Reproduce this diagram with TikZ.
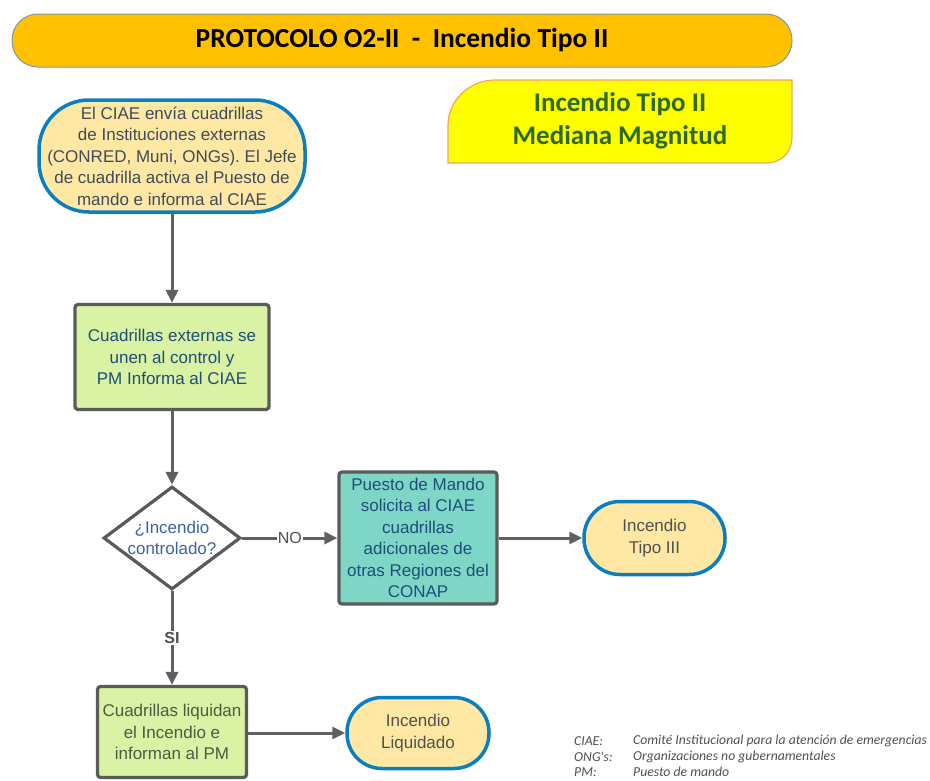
\documentclass[tikz,border=0pt]{standalone}
\usepackage{fontspec}
\setmainfont{Liberation Sans}
\newfontfamily\carlito{Carlito}
\usetikzlibrary{shapes.geometric,arrows.meta}
\definecolor{titlefill}{HTML}{FFC000}
\definecolor{titleborder}{HTML}{7C98AE}
\definecolor{yfill}{HTML}{FFFF00}
\definecolor{yborder}{HTML}{F2A36A}
\definecolor{ytext}{HTML}{2E6B1E}
\definecolor{termfill}{HTML}{FFE8A3}
\definecolor{termborder}{HTML}{0B7DC1}
\definecolor{greenfill}{HTML}{D9F2A3}
\definecolor{tealfill}{HTML}{7DD6C6}
\definecolor{boxborder}{HTML}{5A5A5A}
\definecolor{linegray}{HTML}{606060}
\definecolor{navy}{HTML}{1F4E79}
\definecolor{dblue}{HTML}{3B63A8}
\definecolor{sgray}{HTML}{3D4B5C}
\definecolor{tgray}{HTML}{505050}
\definecolor{ggray}{HTML}{4D5A45}
\tikzset{
  base/.style={align=center, font=\frenchspacing\fontsize{17}{21.5}\selectfont, inner sep=0pt},
  term/.style={base, draw=termborder, line width=3.5pt, fill=termfill, text=tgray},
  procbox/.style={base, draw=boxborder, line width=3.2pt, rounded corners=3pt},
  arr/.style={draw=linegray, line width=3pt, -{Triangle[length=13pt,width=12pt]}},
  lbl/.style={fill=white, inner sep=1pt, font=\fontsize{16}{18}\selectfont},
}
\begin{document}
\begin{tikzpicture}[x=1pt,y=-1pt]
\path[use as bounding box] (0,0) rectangle (930,780);
% title
\node[draw=titleborder, line width=1pt, fill=titlefill, rounded corners=26pt,
      minimum width=780pt, minimum height=53pt, font=\carlito\bfseries\fontsize{27.5}{29}\selectfont]
      (title) at (402,40.5) {PROTOCOLO O2-II\ \ -\ \ Incendio Tipo II};
% yellow box
\draw[draw=yborder, line width=1.2pt, fill=yfill]
  (448,163) -- (448,125) .. controls (448,100) and (470,80) .. (495,80)
  -- (792,80) -- (792,138) .. controls (792,152) and (781,163) .. (767,163) -- cycle;
\node[align=center, text=ytext, font=\carlito\bfseries\fontsize{27}{33}\selectfont]
  (ybox) at (620,121) {Incendio Tipo II\\Mediana Magnitud};
% nodes
\node[term, rounded corners=50pt, minimum width=266pt, minimum height=112pt, text=sgray]
  (start) at (172,156) {El CIAE envía cuadrillas\\de Instituciones externas\\(CONRED, Muni, ONGs). El Jefe\\de cuadrilla activa el Puesto de\\mando e informa al CIAE};
\node[procbox, fill=greenfill, minimum width=194pt, minimum height=105pt, text=navy]
  (b1) at (172,357) {Cuadrillas externas se\\unen al control y\\PM Informa al CIAE};
\node[diamond, draw=boxborder, line width=3.2pt, fill=white, minimum width=137pt,
      minimum height=103pt, inner sep=0pt] (d) at (172,538) {};
\node[base, text=dblue] (dtext) at (d.center) {¿Incendio\\controlado?};
\node[procbox, fill=tealfill, minimum width=158pt, minimum height=132pt, text=navy]
  (p) at (418,538) {Puesto de Mando\\solicita al CIAE\\cuadrillas\\adicionales de\\otras Regiones del\\CONAP};
\node[term, rounded corners=36pt, minimum width=141pt, minimum height=73pt]
  (t3) at (654.5,538) {Incendio\\Tipo III};
\node[procbox, fill=greenfill, minimum width=149pt, minimum height=91pt, text=ggray]
  (b2) at (172,732) {Cuadrillas liquidan\\el Incendio e\\informan al PM};
\node[term, rounded corners=35pt, minimum width=142pt, minimum height=71pt]
  (liq) at (418,733) {Incendio\\Liquidado};
% connectors
\draw[arr] (start) -- (b1);
\draw[arr] (b1) -- (d);
\draw[arr] (d) -- node[lbl, text=tgray]{NO} (p);
\draw[arr] (p) -- (t3);
\draw[arr] (d) -- node[lbl, text=tgray, font=\bfseries\fontsize{16}{18}\selectfont]{SI} (b2);
\draw[arr] (b2.east |- liq) -- (liq);
% legend
\begin{scope}[every node/.style={anchor=west, inner sep=0pt, text=tgray, font=\carlito\itshape\fontsize{13.7}{15}\selectfont}]
\node (l1a) at (574,741) {CIAE:};
\node (l1b) at (633,741) {Comité Institucional para la atención de emergencias};
\node (l2a) at (574,757) {ONG's:};
\node (l2b) at (633,757) {Organizaciones no gubernamentales};
\node (l3a) at (574,772) {PM:};
\node (l3b) at (633,772) {Puesto de mando};
\end{scope}
\end{tikzpicture}
\end{document}
